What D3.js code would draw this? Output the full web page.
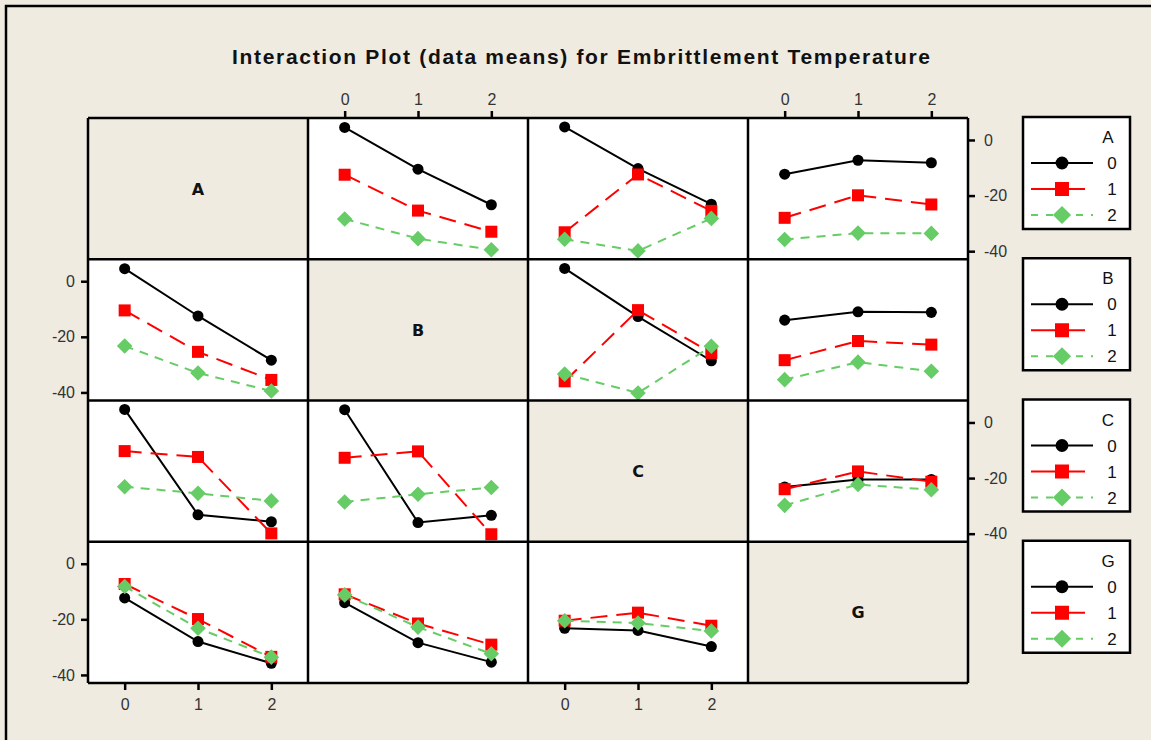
<!DOCTYPE html>
<html>
<head>
<meta charset="utf-8">
<script src="https://cdn.jsdelivr.net/npm/d3@7"></script>
<style>
  body { margin: 0; background: #efebe1; }
  svg { display: block; }
</style>
</head>
<body>
<svg id="chart"></svg>
<script>
const WIDTH = 1151;
const HEIGHT = 740;

// Data: interaction means, table[rowLevel][colLevel] for factor pair (first, second)
const factors = ['A', 'B', 'C', 'G'];
const levels = [0, 1, 2];
const yTicks = [0, -20, -40];
const meansAB = [[4.5, -10.5, -23.3], [-12.5, -25.4, -33.0], [-28.4, -35.5, -39.5]];
const meansAC = [[4.7, -10.3, -23.1], [-33.2, -12.4, -25.5], [-35.7, -39.9, -28.2]];
const meansAG = [[-12.3, -7.3, -8.2], [-28.0, -19.9, -23.2], [-35.8, -33.5, -33.6]];
const meansBC = [[4.6, -12.7, -28.6], [-36.0, -10.4, -25.8], [-33.4, -40.2, -23.4]];
const meansBG = [[-14.0, -11.0, -11.2], [-28.4, -21.5, -22.8], [-35.4, -29.1, -32.4]];
const meansCG = [[-23.2, -20.5, -20.5], [-24.0, -17.6, -21.3], [-29.8, -22.3, -24.2]];

const pairTables = {
  AB: meansAB, AC: meansAC, AG: meansAG,
  BC: meansBC, BG: meansBG, CG: meansCG
};

const seriesStyle = [
  { color: '#000000', dash: null, shape: 'circle' },
  { color: '#ff0000', dash: '17,9', shape: 'square' },
  { color: '#66cc66', dash: '9,7', shape: 'diamond' }
];

const GRID = { left: 88, right: 968, top: 118, bottom: 683 };
const cellW = (GRID.right - GRID.left) / 4;
const cellH = (GRID.bottom - GRID.top) / 4;

const gridX = d3.scaleLinear().domain([0, 4]).range([GRID.left, GRID.right]);
const gridY = d3.scaleLinear().domain([0, 4]).range([GRID.top, GRID.bottom]);
const x = d3.scaleLinear().domain([-0.5, 2.5]).range([0, cellW]);
const y = d3.scaleLinear().domain([-42.9, 7.9]).range([cellH, 0]);

// series for trace factor i (row) against x factor j (column)
function cellSeries(i, j) {
  const key = i < j ? factors[i] + factors[j] : factors[j] + factors[i];
  const table = pairTables[key];
  return levels.map(s => levels.map(c => ({
    x: c,
    y: i < j ? table[s][c] : table[c][s]
  })));
}

function drawMarker(sel, shape, color, size) {
  if (shape === 'circle') {
    sel.append('circle').attr('r', size * 0.46).attr('fill', color);
  } else if (shape === 'square') {
    sel.append('rect').attr('x', -size / 2).attr('y', -size / 2)
      .attr('width', size).attr('height', size).attr('fill', color);
  } else {
    const r = size * 0.65;
    sel.append('path').attr('d', `M0,${-r}L${r},0L0,${r}L${-r},0Z`).attr('fill', color);
  }
}

const svg = d3.select('#chart').attr('width', WIDTH).attr('height', HEIGHT);

svg.append('rect').attr('width', WIDTH).attr('height', HEIGHT).attr('fill', '#efebe1');

// outer frame (only top and left visible)
svg.append('path')
  .attr('d', `M6,${HEIGHT + 5}V6H${WIDTH + 5}`)
  .attr('fill', 'none').attr('stroke', '#000').attr('stroke-width', 2.5);

svg.append('text')
  .attr('x', 581).attr('y', 64)
  .attr('text-anchor', 'middle')
  .attr('textLength', 698).attr('lengthAdjust', 'spacing')
  .style('font-family', '"Liberation Sans", Arial, sans-serif')
  .style('font-size', '21px').style('font-weight', 'bold').style('fill', '#111')
  .text('Interaction Plot (data means) for Embrittlement Temperature');

const line = d3.line().x(d => x(d.x)).y(d => y(d.y));

factors.forEach((rowF, i) => {
  factors.forEach((colF, j) => {
    const g = svg.append('g').attr('transform', `translate(${gridX(j)},${gridY(i)})`);
    g.append('rect').attr('width', cellW).attr('height', cellH)
      .attr('fill', i === j ? '#efebe1' : '#ffffff');
    if (i === j) {
      g.append('text')
        .attr('x', cellW / 2).attr('y', cellH / 2 + 6)
        .attr('text-anchor', 'middle')
        .style('font-family', '"DejaVu Sans", Verdana, sans-serif')
        .style('font-size', '16px').style('font-weight', 'bold').style('fill', '#111')
        .text(rowF);
      return;
    }
    cellSeries(i, j).forEach((pts, s) => {
      const st = seriesStyle[s];
      g.append('path').datum(pts)
        .attr('d', line)
        .attr('fill', 'none')
        .attr('stroke', st.color)
        .attr('stroke-width', 2)
        .attr('stroke-dasharray', st.dash);
      pts.forEach(p => {
        const m = g.append('g').attr('transform', `translate(${x(p.x)},${y(p.y)})`);
        drawMarker(m, st.shape, st.color, 12);
      });
    });
  });
});

// grid lines
const gridLines = svg.append('g').attr('stroke', '#000').attr('stroke-width', 2.5);
d3.range(5).forEach(k => {
  gridLines.append('line').attr('x1', gridX(k)).attr('x2', gridX(k))
    .attr('y1', GRID.top).attr('y2', GRID.bottom);
  gridLines.append('line').attr('y1', gridY(k)).attr('y2', gridY(k))
    .attr('x1', GRID.left).attr('x2', GRID.right);
});

function styleAxis(g) {
  g.select('.domain').remove();
  g.selectAll('.tick line').attr('stroke', '#000').attr('stroke-width', 2.5);
  g.selectAll('.tick text')
    .style('font-family', '"Liberation Sans", Arial, sans-serif')
    .style('font-size', '16px')
    .attr('fill', '#333');
}

// axes: left on rows 1,3, right on rows 0,2, top on cols 1,3, bottom on cols 0,2
const fmt = d => String(d);
d3.range(4).forEach(k => {
  const yAxis = k % 2 === 1
    ? d3.axisLeft(y).tickValues(yTicks).tickSize(7).tickPadding(6).tickFormat(fmt)
    : d3.axisRight(y).tickValues(yTicks).tickSize(7).tickPadding(9).tickFormat(fmt);
  svg.append('g')
    .attr('transform', `translate(${k % 2 === 1 ? GRID.left : GRID.right},${gridY(k)})`)
    .call(yAxis)
    .call(styleAxis);

  const xAxis = k % 2 === 1
    ? d3.axisTop(x).tickValues(levels).tickSize(7).tickPadding(6).tickFormat(fmt)
    : d3.axisBottom(x).tickValues(levels).tickSize(7).tickPadding(9).tickFormat(fmt);
  svg.append('g')
    .attr('transform', `translate(${gridX(k)},${k % 2 === 1 ? GRID.top : GRID.bottom})`)
    .call(xAxis)
    .call(styleAxis);
});

// legends, one per row factor
factors.forEach((f, i) => {
  const top = gridY(i) - 1;
  const lg = svg.append('g').attr('transform', `translate(1023,${top})`);
  lg.append('rect').attr('width', 107).attr('height', 112)
    .attr('fill', '#ffffff').attr('stroke', '#000').attr('stroke-width', 2.5);
  lg.append('text')
    .attr('x', 85).attr('y', 26).attr('text-anchor', 'middle')
    .style('font-family', '"Liberation Sans", Arial, sans-serif')
    .style('font-size', '17px').style('fill', '#111')
    .text(f);
  levels.forEach((lv, s) => {
    const st = seriesStyle[s];
    const ly = 46 + s * 26;
    lg.append('line')
      .attr('x1', 8).attr('x2', s === 1 ? 62 : 70)
      .attr('y1', ly).attr('y2', ly)
      .attr('stroke', st.color).attr('stroke-width', 2)
      .attr('stroke-dasharray', s === 2 ? '7,8' : null);
    const m = lg.append('g').attr('transform', `translate(39,${ly})`);
    drawMarker(m, st.shape, st.color, 14);
    lg.append('text')
      .attr('x', 89).attr('y', ly + 6).attr('text-anchor', 'middle')
      .style('font-family', '"Liberation Sans", Arial, sans-serif')
      .style('font-size', '17px').style('fill', '#111')
      .text(lv);
  });
});
</script>
</body>
</html>
